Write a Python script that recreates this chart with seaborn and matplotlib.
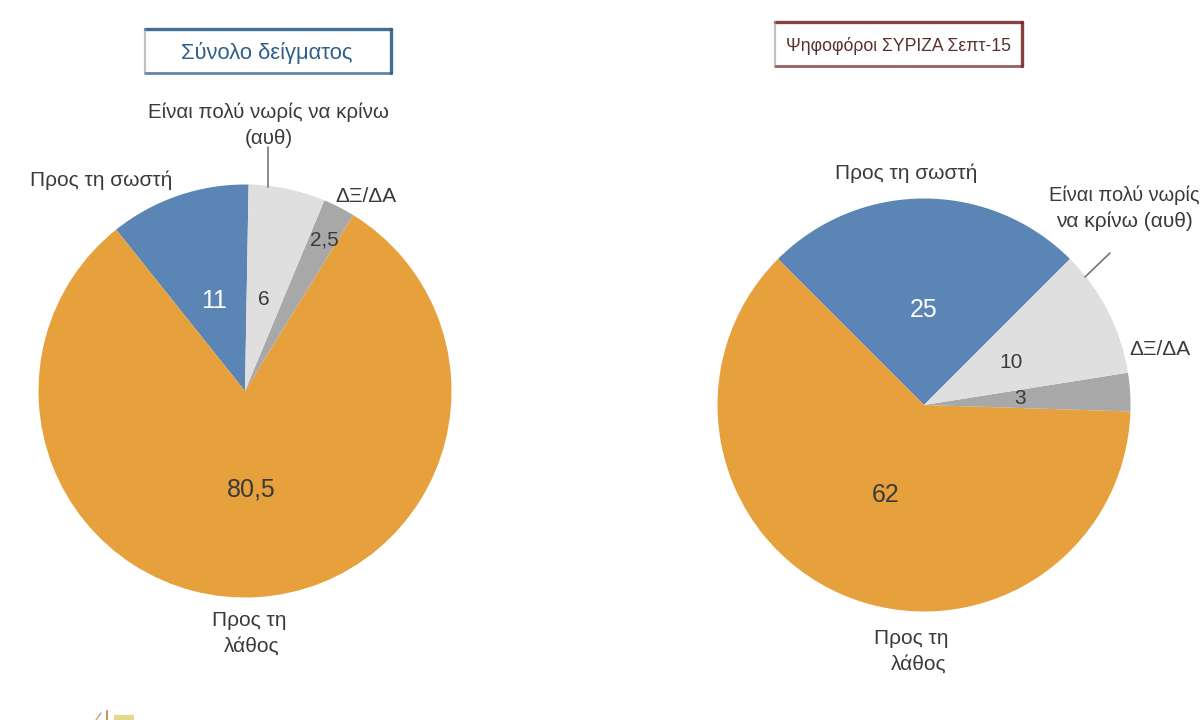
import matplotlib
matplotlib.use("Agg")
import matplotlib.pyplot as plt
from matplotlib.patches import Rectangle
import seaborn as sns
import pandas as pd

sns.set_theme(style="white")
plt.rcParams["font.family"] = ["Liberation Sans", "DejaVu Sans"]

W, H = 1200, 720

# Datos de cada encuesta (orden antihorario desde startangle)
datos = pd.DataFrame({
    "categoria": ["Προς τη σωστή", "Προς τη λάθος", "ΔΞ/ΔΑ", "Είναι πολύ νωρίς να κρίνω (αυθ)"],
    "total": [11, 80.5, 2.5, 6],
    "syriza": [25, 62, 3, 10],
})
colores = sns.color_palette(["#5b85b5", "#e6a13d", "#a8a8a8", "#dfdfdf"])


def px(x, y):
    return x / W, 1 - y / H


def pie(col, cx, cy, r, start):
    ax = fig.add_axes([(cx - r) / W, 1 - (cy + r) / H, 2 * r / W, 2 * r / H])
    ax.pie(datos[col], colors=colores, startangle=start, counterclock=True, radius=1,
           wedgeprops={"linewidth": 0})
    ax.set_xlim(-1, 1)
    ax.set_ylim(-1, 1)
    return ax


def texto(x, y, s, size=15, color="#3a3a3a", ha="center"):
    fig.text(*px(x, y), s, fontsize=size, color=color, ha=ha, va="center")


def linea(x0, y0, x1, y1, color="#777777", lw=1.2, alpha=1):
    fig.add_artist(plt.Line2D([x0 / W, x1 / W], [1 - y0 / H, 1 - y1 / H], color=color, lw=lw, alpha=alpha))


def caja(x0, y0, x1, y1, color):
    # borde irregular: arriba y derecha mas marcados, izquierda casi gris
    linea(x0, y0, x1, y0, color, 2.4, 0.9)
    linea(x1, y0, x1, y1, color, 2.4, 0.9)
    linea(x0, y1, x1, y1, color, 2.0, 0.75)
    linea(x0, y0, x0, y1, "#999999", 1.6, 0.6)


fig = plt.figure(figsize=(W / 100, H / 100), dpi=100)

# Gráfico izquierdo
pie("total", 245, 391, 206.5, 89)
caja(145, 29, 391, 73, "#2f5f8a")
texto(267, 53, "Σύνολο δείγματος", 15.8, "#2f5f8a")
texto(269, 112, "Είναι πολύ νωρίς να κρίνω", 14.8)
texto(269, 138, "(αυθ)", 14.8)
texto(101, 180, "Προς τη σωστή")
texto(366, 196, "ΔΞ/ΔΑ")
texto(214, 301, "11", 18, "white")
texto(264, 299, "6", 15)
texto(324, 240, "2,5", 15)
texto(251, 490, "80,5", 18)
texto(249, 620, "Προς τη")
texto(252, 646, "λάθος")
linea(268, 187, 268, 147)

# Gráfico derecho
pie("syriza", 924, 405, 206.5, 45)
caja(775, 22, 1022, 66, "#7a2a2a")
texto(898, 46, "Ψηφοφόροι ΣΥΡΙΖΑ Σεπτ-15", 12.7, "#5a3030")
texto(906, 173, "Προς τη σωστή")
texto(1049, 195, "Είναι πολύ νωρίς", 14.4, ha="left")
texto(1056, 221, "να κρίνω (αυθ)", ha="left")
texto(1160, 349, "ΔΞ/ΔΑ")
texto(924, 310, "25", 18, "white")
texto(1011, 362, "10", 15)
texto(1020, 399, "3", 15)
texto(886, 495, "62", 18)
texto(911, 638, "Προς τη")
texto(919, 664, "λάθος")
linea(1085, 277, 1110, 253)

# Restos del logo cortado abajo
linea(107, 711, 107, 720, "#c89a5a", 1.5)
linea(96, 720, 101, 713, "#b9a37a", 1.0)
fig.add_artist(Rectangle(px(114, 720), 20 / W, 5 / H, transform=fig.transFigure, facecolor="#e3d98a", edgecolor="none"))

fig.savefig("out.png", dpi=100)
